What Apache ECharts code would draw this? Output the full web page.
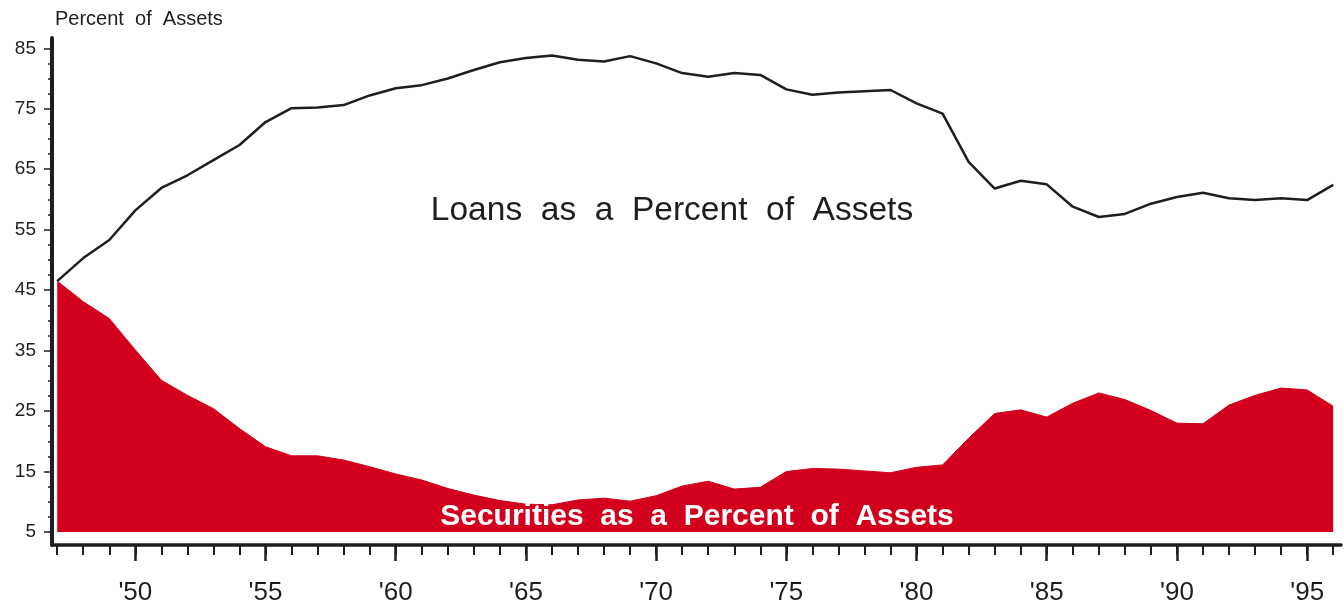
<!DOCTYPE html>
<html>
	<head>
		<title>Loans and Securities</title>
		<script src="https://cdn.jsdelivr.net/npm/echarts@6/dist/echarts.min.js"></script>
	</head>
	<body style="margin:0;padding:0;background:#fff">
		<div id="chart" style="width:1344px;height:603px;"></div>
	</body>
	<script type="text/javascript">
var myChart = echarts.init(document.getElementById('chart'));

// data (percent of assets)
var years = [1947, 1948, 1949, 1950, 1951, 1952, 1953, 1954, 1955, 1956,
    1957, 1958, 1959, 1960, 1961, 1962, 1963, 1964, 1965, 1966,
    1967, 1968, 1969, 1970, 1971, 1972, 1973, 1974, 1975, 1976,
    1977, 1978, 1979, 1980, 1981, 1982, 1983, 1984, 1985, 1986,
    1987, 1988, 1989, 1990, 1991, 1992, 1993, 1994, 1995, 1996];
var loans = [46.5, 50.3, 53.3, 58.2, 61.9, 64.0, 66.5, 69.0, 72.8, 75.1,
    75.2, 75.6, 77.2, 78.4, 78.9, 80.0, 81.4, 82.7, 83.4, 83.8,
    83.1, 82.8, 83.7, 82.5, 80.9, 80.3, 80.9, 80.6, 78.2, 77.3,
    77.7, 77.9, 78.1, 75.9, 74.2, 66.2, 61.8, 63.1, 62.5, 58.8,
    57.1, 57.6, 59.3, 60.4, 61.1, 60.2, 59.9, 60.2, 59.9, 62.4];
var securities = [46.5, 43.1, 40.3, 35.1, 30.1, 27.6, 25.4, 22.1, 19.1, 17.6,
    17.6, 16.9, 15.8, 14.6, 13.6, 12.2, 11.1, 10.2, 9.6, 9.5,
    10.3, 10.6, 10.1, 11.0, 12.6, 13.4, 12.1, 12.4, 15.0, 15.5,
    15.4, 15.1, 14.8, 15.7, 16.1, 20.5, 24.6, 25.2, 24.0, 26.3,
    28.0, 26.9, 25.1, 23.0, 22.9, 26.0, 27.6, 28.8, 28.5, 25.8];

var yTicks = [5, 15, 25, 35, 45, 55, 65, 75, 85];
var yMinorTicks = [5, 7.5, 10, 12.5, 15, 17.5, 20, 22.5, 25, 27.5, 30, 32.5, 35, 37.5, 40, 42.5,
    45, 47.5, 50, 52.5, 55, 57.5, 60, 62.5, 65, 67.5, 70, 72.5, 75, 77.5, 80, 82.5, 85];
var xMajorTicks = [1950, 1955, 1960, 1965, 1970, 1975, 1980, 1985, 1990, 1995];
var xTickLabels = ["'50", "'55", "'60", "'65", "'70", "'75", "'80", "'85", "'90", "'95"];

function pairs(vals) {
    return years.map(function(y, i) { return [y, vals[i]]; });
}

var font = '"Liberation Sans", Arial, Helvetica, sans-serif';
var ink = '#1e1e1e';
var red = '#d2001c';

var option = {
    backgroundColor: '#fff',
    animation: false,
    grid: { left: 52, right: 3, top: 38, bottom: 58, outerBoundsMode: 'none', containLabel: false },
    xAxis: [{
        type: 'value',
        min: 1946.8,
        max: 1996.3,
        position: 'bottom',
        splitLine: { show: false },
        axisLine: { lineStyle: { color: ink, width: 3.5 } },
        axisTick: { customValues: years, length: 10, lineStyle: { color: ink, width: 2 } },
        axisLabel: { show: false }
    }, {
        type: 'value',
        min: 1946.8,
        max: 1996.3,
        position: 'bottom',
        splitLine: { show: false },
        axisLine: { show: false },
        axisTick: { customValues: xMajorTicks, length: 16, lineStyle: { color: ink, width: 2.5 } },
        axisLabel: {
            customValues: xMajorTicks,
            margin: 25,
            color: ink,
            fontSize: 26,
            fontFamily: font,
            formatter: function(v) { return xTickLabels[xMajorTicks.indexOf(v)]; }
        }
    }],
    yAxis: [{
        type: 'value',
        min: 2.85,
        max: 86.7,
        position: 'left',
        splitLine: { show: false },
        axisLine: { show: true, lineStyle: { color: ink, width: 4 } },
        axisTick: { customValues: yTicks, length: 8, lineStyle: { color: ink, width: 1.5 } },
        axisLabel: {
            customValues: yTicks,
            margin: 16,
            color: ink,
            fontSize: 19,
            fontFamily: font
        }
    }, {
        type: 'value',
        min: 2.85,
        max: 86.7,
        position: 'left',
        splitLine: { show: false },
        axisLine: { show: false },
        axisTick: { customValues: yMinorTicks, length: 4, lineStyle: { color: ink, width: 1.5 } },
        axisLabel: { show: false }
    }],
    series: [{
        name: 'Securities',
        type: 'line',
        data: pairs(securities),
        symbol: 'none',
        lineStyle: { width: 1, color: red },
        areaStyle: { color: red, opacity: 1, origin: 5 },
        z: 2
    }, {
        name: 'Loans',
        type: 'line',
        data: pairs(loans),
        symbol: 'none',
        lineStyle: { width: 2.5, color: ink },
        z: 3
    }],
    graphic: [{
        type: 'text',
        x: 55,
        y: 19,
        style: { text: 'Percent  of  Assets', font: '20px ' + font, fill: ink, textAlign: 'left', textVerticalAlign: 'middle' }
    }, {
        type: 'text',
        x: 672,
        y: 211,
        style: { text: 'Loans  as  a  Percent  of  Assets', font: '33.5px ' + font, fill: ink, textAlign: 'center', textVerticalAlign: 'middle' }
    }, {
        type: 'text',
        x: 697,
        y: 517,
        z: 10,
        style: { text: 'Securities  as  a  Percent  of  Assets', font: 'bold 30px ' + font, fill: '#fff', textAlign: 'center', textVerticalAlign: 'middle' }
    }]
};
myChart.setOption(option);
	</script>
</html>
